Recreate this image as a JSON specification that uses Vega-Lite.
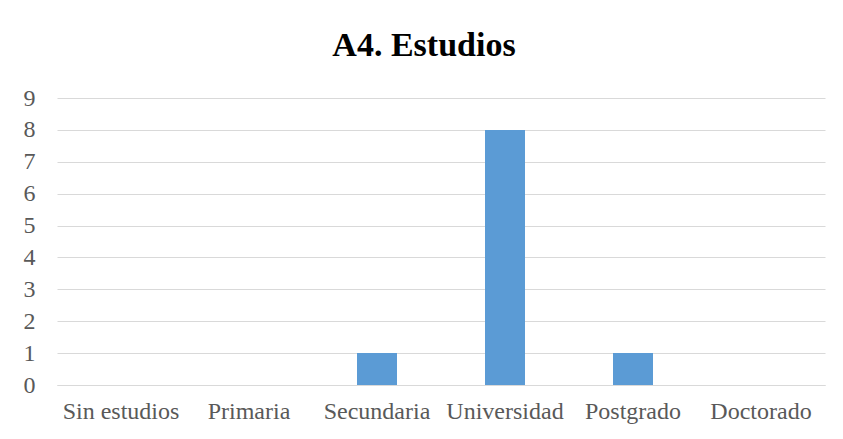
{
  "$schema": "https://vega.github.io/schema/vega-lite/v6.json",
  "width": 768,
  "height": 287,
  "autosize": {"type": "none"},
  "padding": {"left": 57, "top": 98, "right": 18, "bottom": 54},
  "background": "white",
  "title": {
    "text": "A4. Estudios",
    "font": "Liberation Serif",
    "fontSize": 34,
    "fontWeight": "bold",
    "color": "#000000",
    "anchor": "middle",
    "dx": -17,
    "offset": 23
  },
  "data": {
    "values": [
      {"categoria": "Sin estudios", "valor": 0},
      {"categoria": "Primaria", "valor": 0},
      {"categoria": "Secundaria", "valor": 1},
      {"categoria": "Universidad", "valor": 8},
      {"categoria": "Postgrado", "valor": 1},
      {"categoria": "Doctorado", "valor": 0}
    ]
  },
  "mark": {"type": "bar", "color": "#5B9BD5"},
  "encoding": {
    "x": {
      "field": "categoria",
      "type": "nominal",
      "sort": null,
      "scale": {"paddingInner": 0.6875, "paddingOuter": 0.34375},
      "axis": {
        "title": null,
        "labelAngle": 0,
        "labelFont": "Liberation Serif",
        "labelFontSize": 24,
        "labelColor": "#595959",
        "labelPadding": 14,
        "ticks": false,
        "domain": true,
        "domainColor": "#D9D9D9",
        "domainWidth": 1
      }
    },
    "y": {
      "field": "valor",
      "type": "quantitative",
      "scale": {"domain": [0, 9], "nice": false},
      "axis": {
        "title": null,
        "values": [0, 1, 2, 3, 4, 5, 6, 7, 8, 9],
        "labelFont": "Liberation Serif",
        "labelFontSize": 24,
        "labelColor": "#595959",
        "labelPadding": 22,
        "ticks": false,
        "domain": false,
        "grid": true,
        "gridColor": "#D9D9D9",
        "gridWidth": 1
      }
    }
  },
  "config": {"view": {"stroke": null}}
}
